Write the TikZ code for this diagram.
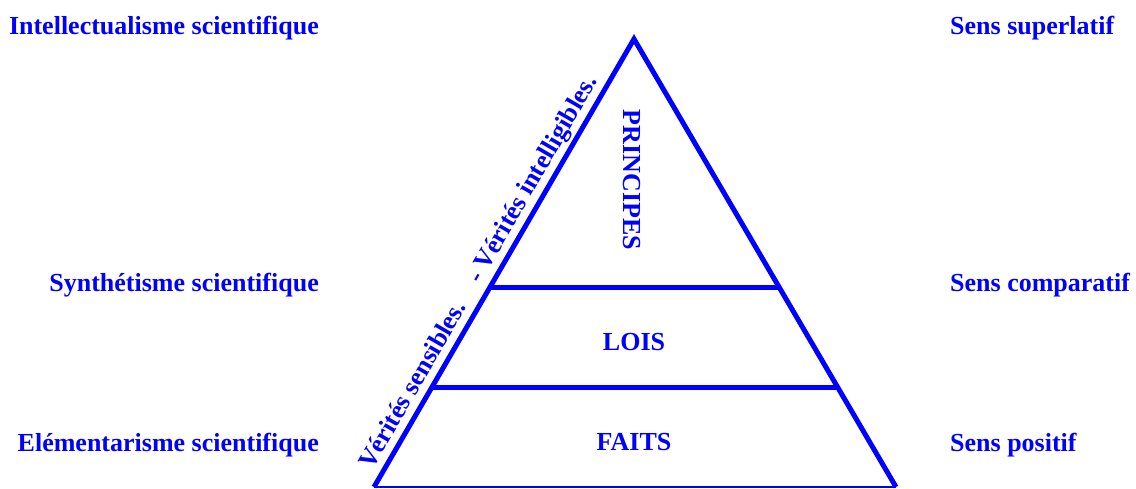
\documentclass[tikz,border=0pt]{standalone}
\usepackage{fontspec}
\setmainfont{Liberation Serif}
\usetikzlibrary{calc}
\definecolor{Pyramid}{RGB}{0,0,255}
\newcommand{\LabelFont}{\fontsize{26pt}{30pt}\selectfont\bfseries}
\def\Levels{0.5536, 0.7768}
\tikzset{Label/.style={
    inner sep=0pt,
    text=Pyramid,
    font=\LabelFont
    },
    Edge/.style={draw=Pyramid, line width=5pt}
}

\begin{document}
\begin{tikzpicture}[x=1pt,y=-1pt]
\useasboundingbox (0,0) rectangle (1136,488);
\coordinate (apex) at (634,39);
\coordinate (bl) at (374,487);
\coordinate (br) at (896,487);
\draw [Edge, line join=miter] (bl) -- (apex) -- (br);
\draw [draw=Pyramid, line width=1.2pt] (bl) -- (br);
\foreach \t in \Levels {
\draw [Edge] ($(apex)!\t!(bl)$) -- ($(apex)!\t!(br)$);
}
\node [Label, rotate=-90] (principes) at (632,180) {PRINCIPES};
\node [Label, anchor=base] (lois) at (634,350) {LOIS};
\node [Label, anchor=base] (faits) at (634,450) {FAITS};
\path (bl) -- (apex) node [Label, pos=0.46, sloped, above=4pt] (verites) {Vérités sensibles.\ \ \ \ - Vérités intelligibles.};
\foreach \y/\Lname/\Rname/\Name in {34/Intellectualisme scientifique/Sens superlatif/top, 291/Synthétisme scientifique/Sens comparatif/mid, 451/Elémentarisme scientifique/Sens positif/low} {
\node [Label, anchor=base east] (left-\Name) at (319,\y) {\Lname};
\node [Label, anchor=base west] (right-\Name) at (950,\y) {\Rname};
}
\end{tikzpicture}
\end{document}
